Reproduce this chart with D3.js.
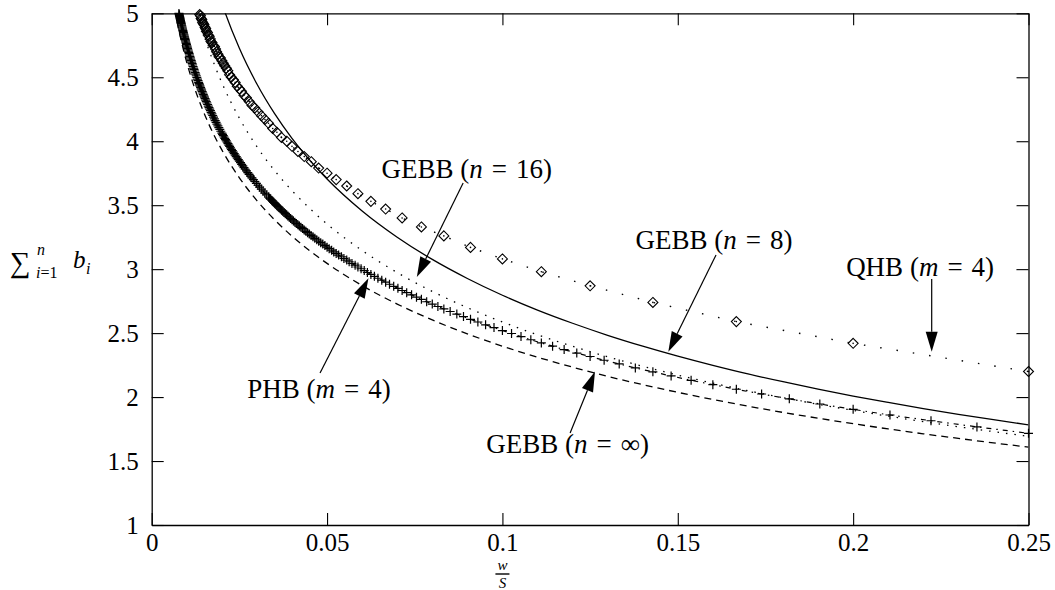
<!DOCTYPE html>
<html>
<head>
<meta charset="utf-8">
<script src="https://cdn.jsdelivr.net/npm/d3@7/dist/d3.min.js"></script>
<style>
  html, body { margin: 0; padding: 0; background: #fff; }
  text { font-family: "Liberation Serif", "Times New Roman", serif; fill: #000; }
</style>
</head>
<body>
<div id="chart"></div>
<script>
// ---- data ----

// axis ticks
const xTicks = [0, 0.05, 0.1, 0.15, 0.2, 0.25];
const yTicks = [1, 1.5, 2, 2.5, 3, 3.5, 4, 4.5, 5];

// common grid for the GEBB curves (w/S)
const gridX = [0.006, 0.007, 0.008, 0.009, 0.010, 0.012, 0.014, 0.016, 0.018, 0.020,
  0.025, 0.030, 0.035, 0.040, 0.045, 0.050, 0.06, 0.07, 0.08, 0.09, 0.10, 0.11, 0.12,
  0.13, 0.14, 0.15, 0.16, 0.17, 0.18, 0.19, 0.20, 0.21, 0.22, 0.23, 0.24, 0.25];

// GEBB (n = infinity), dashed
const gebbInf = [5.122, 4.969, 4.836, 4.720, 4.615, 4.435, 4.283, 4.151, 4.035, 3.932,
  3.714, 3.536, 3.387, 3.258, 3.145, 3.045, 2.872, 2.727, 2.603, 2.494, 2.398, 2.312, 2.234,
  2.162, 2.097, 2.037, 1.981, 1.929, 1.880, 1.835, 1.792, 1.751, 1.713, 1.677, 1.642, 1.609];

// GEBB (n = 8), solid
const gebb8 = [7.176, 6.888, 6.643, 6.431, 6.244, 5.926, 5.664, 5.441, 5.248, 5.078,
  4.726, 4.447, 4.217, 4.022, 3.853, 3.705, 3.455, 3.250, 3.076, 2.927, 2.796, 2.680, 2.577,
  2.483, 2.398, 2.320, 2.248, 2.181, 2.120, 2.062, 2.008, 1.958, 1.910, 1.865, 1.823, 1.783];

// GEBB (n = 16), dotted
const gebb16 = [6.037, 5.827, 5.647, 5.489, 5.350, 5.111, 4.911, 4.739, 4.590, 4.457,
  4.180, 3.957, 3.772, 3.614, 3.476, 3.353, 3.146, 2.973, 2.826, 2.699, 2.587, 2.487, 2.397,
  2.315, 2.241, 2.172, 2.109, 2.050, 1.995, 1.944, 1.896, 1.851, 1.808, 1.768, 1.730, 1.693];

// QHB (m = 4), diamonds
const qhbX = [0.25, 0.2, 0.1667, 0.1429, 0.125, 0.1111, 0.1, 0.0909, 0.0833, 0.0769,
  0.0714, 0.0667, 0.0625, 0.0588, 0.0556, 0.0526, 0.05, 0.0476, 0.0455, 0.0435, 0.0417,
  0.04, 0.0385, 0.037, 0.0357, 0.0345, 0.0333, 0.0323, 0.0313, 0.0303, 0.0294, 0.0286,
  0.0278, 0.027, 0.0263, 0.0256, 0.025, 0.0244, 0.0238, 0.0233, 0.0227, 0.0222, 0.0217,
  0.0213, 0.0208, 0.0204, 0.02, 0.0196, 0.0192, 0.0189, 0.0185, 0.0182, 0.0179, 0.0175,
  0.0172, 0.0169, 0.0167, 0.0164, 0.0161, 0.0159, 0.0156, 0.0154, 0.0152, 0.0149, 0.0147,
  0.0145, 0.0143, 0.0141, 0.0139, 0.0137];
const qhbY = [2.20, 2.42, 2.59, 2.74, 2.87, 2.98, 3.08, 3.17, 3.26, 3.33,
  3.40, 3.47, 3.53, 3.59, 3.65, 3.70, 3.75, 3.79, 3.84, 3.88, 3.92,
  3.96, 4.00, 4.03, 4.07, 4.10, 4.14, 4.17, 4.20, 4.23, 4.26, 4.28,
  4.31, 4.34, 4.36, 4.39, 4.41, 4.43, 4.46, 4.48, 4.50, 4.52, 4.55,
  4.57, 4.59, 4.61, 4.63, 4.65, 4.66, 4.68, 4.70, 4.72, 4.74, 4.75,
  4.77, 4.78, 4.80, 4.82, 4.83, 4.85, 4.86, 4.88, 4.89, 4.91, 4.92,
  4.93, 4.95, 4.96, 4.98, 4.99];

// PHB (m = 4), plus markers
const phbX = [0.25, 0.2353, 0.2222, 0.2105, 0.2, 0.1905, 0.1818, 0.1739, 0.1667, 0.16,
  0.1538, 0.1481, 0.1429, 0.1379, 0.1333, 0.129, 0.125, 0.1212, 0.1176, 0.1143, 0.1111,
  0.1081, 0.1053, 0.1026, 0.1, 0.0976, 0.0952, 0.093, 0.0909, 0.0889, 0.087, 0.0851,
  0.0833, 0.0816, 0.08, 0.0784, 0.0769, 0.0755, 0.0741, 0.0727, 0.0714, 0.0702, 0.069,
  0.0678, 0.0667, 0.0656, 0.0645, 0.0635, 0.0625, 0.0615, 0.0606, 0.0597, 0.0588, 0.058,
  0.0571, 0.0563, 0.0556, 0.0548, 0.0541, 0.0533, 0.0526, 0.0519, 0.0513, 0.0506, 0.05,
  0.04938, 0.04878, 0.04819, 0.04762, 0.04706, 0.04651, 0.04598, 0.04545, 0.04494, 0.04444,
  0.04396, 0.04348, 0.04301, 0.04255, 0.04211, 0.04167, 0.04124, 0.04082, 0.0404, 0.04,
  0.0396, 0.03922, 0.03883, 0.03846, 0.0381, 0.03774, 0.03738, 0.03704, 0.0367, 0.03636,
  0.03604, 0.03571, 0.0354, 0.03509, 0.03478, 0.03448, 0.03419, 0.0339, 0.03361, 0.03333,
  0.03279, 0.03226, 0.03175, 0.03125, 0.03077, 0.0303, 0.02985, 0.02941, 0.02899, 0.02857,
  0.02817, 0.02778, 0.0274, 0.02703, 0.02667, 0.02632, 0.02597, 0.02564, 0.02532, 0.025,
  0.02469, 0.02439, 0.0241, 0.02381, 0.02353, 0.02326, 0.02299, 0.02273, 0.02247, 0.02222,
  0.02198, 0.02174, 0.02151, 0.02128, 0.02105, 0.02083, 0.02062, 0.02041, 0.0202, 0.02,
  0.0197, 0.01942, 0.01914, 0.01887, 0.0186, 0.01835, 0.0181, 0.01786, 0.01762, 0.01739,
  0.01717, 0.01695, 0.01674, 0.01653, 0.01633, 0.01613, 0.01594, 0.01575, 0.01556, 0.01538,
  0.01521, 0.01504, 0.01487, 0.01471, 0.01455, 0.01439, 0.01423, 0.01408, 0.01394, 0.01379,
  0.01365, 0.01351, 0.01338,
  0.0132, 0.01303, 0.01286, 0.0127, 0.01254, 0.01238, 0.01223, 0.01208, 0.01194, 0.0118,
  0.01166, 0.01153, 0.0114, 0.01127, 0.01114, 0.01102, 0.0109, 0.01078, 0.01067, 0.01055,
  0.01044, 0.01034, 0.01023, 0.01013, 0.01003, 0.00993, 0.00983, 0.00973, 0.00964, 0.00955,
  0.00946, 0.00937, 0.00928, 0.0092, 0.00911, 0.00903, 0.00895, 0.00887, 0.00879, 0.00871,
  0.00864, 0.00857, 0.00849, 0.00842, 0.00835, 0.00828, 0.00821, 0.00815, 0.00808, 0.00802,
  0.00795, 0.00789, 0.00783, 0.00777];
const phbY = [1.717, 1.767, 1.815, 1.860, 1.904, 1.946, 1.986, 2.024, 2.061, 2.097,
  2.131, 2.165, 2.197, 2.228, 2.259, 2.288, 2.317, 2.344, 2.371, 2.398, 2.423,
  2.448, 2.473, 2.497, 2.520, 2.543, 2.565, 2.587, 2.608, 2.629, 2.649, 2.669,
  2.689, 2.708, 2.727, 2.745, 2.764, 2.781, 2.799, 2.816, 2.833, 2.850, 2.866,
  2.882, 2.898, 2.914, 2.929, 2.944, 2.959, 2.974, 2.989, 3.003, 3.017, 3.031,
  3.045, 3.058, 3.071, 3.084, 3.097, 3.110, 3.123, 3.135, 3.148, 3.160, 3.172,
  3.184, 3.196, 3.207, 3.219, 3.230, 3.241, 3.253, 3.264, 3.274, 3.285,
  3.296, 3.306, 3.317, 3.327, 3.337, 3.347, 3.357, 3.367, 3.377, 3.387,
  3.396, 3.406, 3.415, 3.425, 3.434, 3.443, 3.452, 3.461, 3.470, 3.479,
  3.488, 3.496, 3.505, 3.514, 3.522, 3.531, 3.539, 3.547, 3.555, 3.564,
  3.580, 3.595, 3.611, 3.626, 3.641, 3.656, 3.671, 3.685, 3.700, 3.714,
  3.727, 3.741, 3.754, 3.768, 3.781, 3.794, 3.807, 3.819, 3.832, 3.844,
  3.856, 3.868, 3.880, 3.892, 3.903, 3.915, 3.926, 3.937, 3.948, 3.959,
  3.970, 3.981, 3.992, 4.002, 4.013, 4.023, 4.033, 4.043, 4.053, 4.063,
  4.078, 4.092, 4.106, 4.120, 4.134, 4.148, 4.161, 4.175, 4.188, 4.201,
  4.214, 4.226, 4.239, 4.251, 4.263, 4.275, 4.287, 4.299, 4.310, 4.322,
  4.333, 4.344, 4.355, 4.366, 4.377, 4.388, 4.399, 4.409, 4.420, 4.430,
  4.440, 4.450, 4.460,
  4.473, 4.486, 4.499, 4.512, 4.524, 4.536, 4.549, 4.561, 4.572, 4.584,
  4.596, 4.607, 4.619, 4.630, 4.641, 4.652, 4.663, 4.674, 4.684, 4.695,
  4.705, 4.715, 4.726, 4.736, 4.746, 4.756, 4.765, 4.775, 4.785, 4.794,
  4.804, 4.813, 4.822, 4.831, 4.840, 4.849, 4.858, 4.867, 4.876, 4.885,
  4.893, 4.902, 4.910, 4.919, 4.927, 4.935, 4.943, 4.952, 4.960, 4.968,
  4.976, 4.983, 4.991, 4.999];

// annotation texts (math part set in italics)
const labelNames = ['GEBB', 'GEBB', 'QHB', 'PHB', 'GEBB'];
const labelVars = ['n', 'n', 'm', 'm', 'n'];
const labelValues = ['16', '8', '4', '4', '\u221E'];

// ---- layout ----
const width = 1055;
const height = 590;
const margin = {t: 13.3, r: 26.5, b: 65, l: 151.7};
const serif = '"Liberation Serif", "Times New Roman", serif';

const svg = d3.select('#chart')
    .append('svg')
    .attr('width', width)
    .attr('height', height);

const scaleX = d3.scaleLinear().domain([0, 0.25]).range([margin.l, width - margin.r]);
const scaleY = d3.scaleLinear().domain([1, 5]).range([height - margin.b, margin.t]);

// clip for the curves
svg.append('clipPath')
    .attr('id', 'plot-clip')
    .append('rect')
    .attr('x', margin.l)
    .attr('y', margin.t)
    .attr('width', width - margin.l - margin.r)
    .attr('height', height - margin.t - margin.b);

const fmt = d => String(d);

// axes, ticks pointing inward on all four sides
const axisB = svg.append('g')
    .attr('transform', `translate(0,${height - margin.b})`)
    .call(d3.axisBottom(scaleX).tickValues(xTicks).tickFormat(fmt).tickSizeInner(-12).tickSizeOuter(0).tickPadding(8));
const axisL = svg.append('g')
    .attr('transform', `translate(${margin.l},0)`)
    .call(d3.axisLeft(scaleY).tickValues(yTicks).tickFormat(fmt).tickSizeInner(-12).tickSizeOuter(0).tickPadding(13));
const axisT = svg.append('g')
    .attr('transform', `translate(0,${margin.t})`)
    .call(d3.axisTop(scaleX).tickValues(xTicks).tickFormat('').tickSizeInner(-12).tickSizeOuter(0));
const axisR = svg.append('g')
    .attr('transform', `translate(${width - margin.r},0)`)
    .call(d3.axisRight(scaleY).tickValues(yTicks).tickFormat('').tickSizeInner(-12).tickSizeOuter(0));

[axisB, axisL, axisT, axisR].forEach(a => {
    a.attr('font-family', serif);
    a.select('.domain').attr('stroke', '#000').attr('stroke-width', 1.3);
    a.selectAll('.tick line').attr('stroke', '#000').attr('stroke-width', 1.1);
    a.selectAll('text')
        .style('font-family', serif)
        .attr('font-size', 25)
        .attr('fill', '#000');
});

// ---- curves ----
const line = d3.line()
    .curve(d3.curveMonotoneX)
    .x(d => scaleX(d[0]))
    .y(d => scaleY(d[1]));

const plot = svg.append('g').attr('clip-path', 'url(#plot-clip)');

const curves = [
    {ys: gebbInf, dash: '7,5'},
    {ys: gebb16, dash: '1.5,7'},
    {ys: gebb8, dash: null}
];
curves.forEach(c => {
    plot.append('path')
        .datum(gridX.map((x, i) => [x, c.ys[i]]))
        .attr('fill', 'none')
        .attr('stroke', '#000')
        .attr('stroke-width', 1.3)
        .attr('stroke-dasharray', c.dash)
        .attr('d', line);
});

const qhb = qhbX.map((x, i) => [x, qhbY[i]]).filter(d => d[1] != null).sort((a, b) => a[0] - b[0]);
const phb = phbX.map((x, i) => [x, phbY[i]]).filter(d => d[1] != null).sort((a, b) => a[0] - b[0]);

plot.append('path')
    .datum(qhb)
    .attr('fill', 'none')
    .attr('stroke', '#000')
    .attr('stroke-width', 1.4)
    .attr('stroke-dasharray', '1.5,15')
    .attr('d', d3.line().x(d => scaleX(d[0])).y(d => scaleY(d[1])));

plot.append('path')
    .datum(phb)
    .attr('fill', 'none')
    .attr('stroke', '#000')
    .attr('stroke-width', 1.2)
    .attr('stroke-dasharray', '5,5,1.5,5')
    .attr('d', d3.line().x(d => scaleX(d[0])).y(d => scaleY(d[1])));

// markers (points beyond the range are dropped, markers are not clipped)
svg.append('g')
    .selectAll('path')
    .data(qhb.filter(d => d[1] <= 5))
    .join('path')
    .attr('transform', d => `translate(${scaleX(d[0])},${scaleY(d[1])})`)
    .attr('d', 'M0,-5L5,0L0,5L-5,0Z')
    .attr('fill', 'none')
    .attr('stroke', '#000')
    .attr('stroke-width', 1.1);

svg.append('g')
    .selectAll('circle')
    .data(qhb.filter(d => d[1] <= 5))
    .join('circle')
    .attr('cx', d => scaleX(d[0]))
    .attr('cy', d => scaleY(d[1]))
    .attr('r', 0.8)
    .attr('fill', '#000');

svg.append('g')
    .selectAll('path')
    .data(phb.filter(d => d[1] <= 5))
    .join('path')
    .attr('transform', d => `translate(${scaleX(d[0])},${scaleY(d[1])})`)
    .attr('d', 'M-4.5,0H4.5M0,-4.5V4.5')
    .attr('fill', 'none')
    .attr('stroke', '#000')
    .attr('stroke-width', 1.2);

// ---- annotations with arrows ----
// text anchor (x, y) and arrow start / tip, in data units
const notes = [
    {t: [0.0898, 3.713], a: [0.0888, 3.674], b: [0.0756, 2.939]},
    {t: [0.1603, 3.158], a: [0.1609, 3.111], b: [0.1473, 2.355]},
    {t: [0.2191, 2.947], a: [0.2224, 2.923], b: [0.2224, 2.355]},
    {t: [0.0477, 1.993], a: [0.0480, 2.188], b: [0.0618, 2.929]},
    {t: [0.1186, 1.563], a: [0.1193, 1.719], b: [0.1264, 2.199]}
];

const ann = svg.append('g');
notes.forEach((n, i) => {
    const x1 = scaleX(n.a[0]), y1 = scaleY(n.a[1]);
    const x2 = scaleX(n.b[0]), y2 = scaleY(n.b[1]);
    const ang = Math.atan2(y2 - y1, x2 - x1);
    const len = 20, hw = 6;
    const bx = x2 - len * Math.cos(ang), by = y2 - len * Math.sin(ang);

    ann.append('line')
        .attr('x1', x1).attr('y1', y1)
        .attr('x2', bx).attr('y2', by)
        .attr('stroke', '#000')
        .attr('stroke-width', 1.2);

    ann.append('path')
        .attr('d', `M${x2},${y2}L${bx + hw * Math.sin(ang)},${by - hw * Math.cos(ang)}L${bx - hw * Math.sin(ang)},${by + hw * Math.cos(ang)}Z`)
        .attr('fill', '#000');

    const txt = ann.append('text')
        .attr('x', scaleX(n.t[0]))
        .attr('y', scaleY(n.t[1]))
        .attr('text-anchor', 'middle')
        .attr('font-size', 27);
    txt.append('tspan').text(labelNames[i] + ' (');
    txt.append('tspan').attr('font-style', 'italic').text(labelVars[i]);
    txt.append('tspan').text('\u2004=\u2004' + labelValues[i] + ')');
});

// ---- axis titles ----
// y: sum_{i=1}^{n} b_i
const yt = svg.append('g');
yt.append('text').attr('x', 10).attr('y', 272).attr('font-size', 29).text('\u2211');
yt.append('text').attr('x', 37).attr('y', 255).attr('font-size', 16).attr('font-style', 'italic').text('n');
const sub = yt.append('text').attr('x', 36).attr('y', 278).attr('font-size', 16);
sub.append('tspan').attr('font-style', 'italic').text('i');
sub.append('tspan').text('=1');
yt.append('text').attr('x', 73).attr('y', 268).attr('font-size', 25).attr('font-style', 'italic').text('b');
yt.append('text').attr('x', 86).attr('y', 274).attr('font-size', 16).attr('font-style', 'italic').text('i');

// x: w / S
const xt = svg.append('g');
const xc = scaleX(0.1);
xt.append('text').attr('x', xc).attr('y', 570).attr('text-anchor', 'middle')
    .attr('font-size', 15).attr('font-style', 'italic').text('w');
xt.append('line').attr('x1', xc - 7).attr('x2', xc + 7).attr('y1', 574).attr('y2', 574)
    .attr('stroke', '#000').attr('stroke-width', 1.4);
xt.append('text').attr('x', xc).attr('y', 588).attr('text-anchor', 'middle')
    .attr('font-size', 15).attr('font-style', 'italic').text('S');
</script>
</body>
</html>
